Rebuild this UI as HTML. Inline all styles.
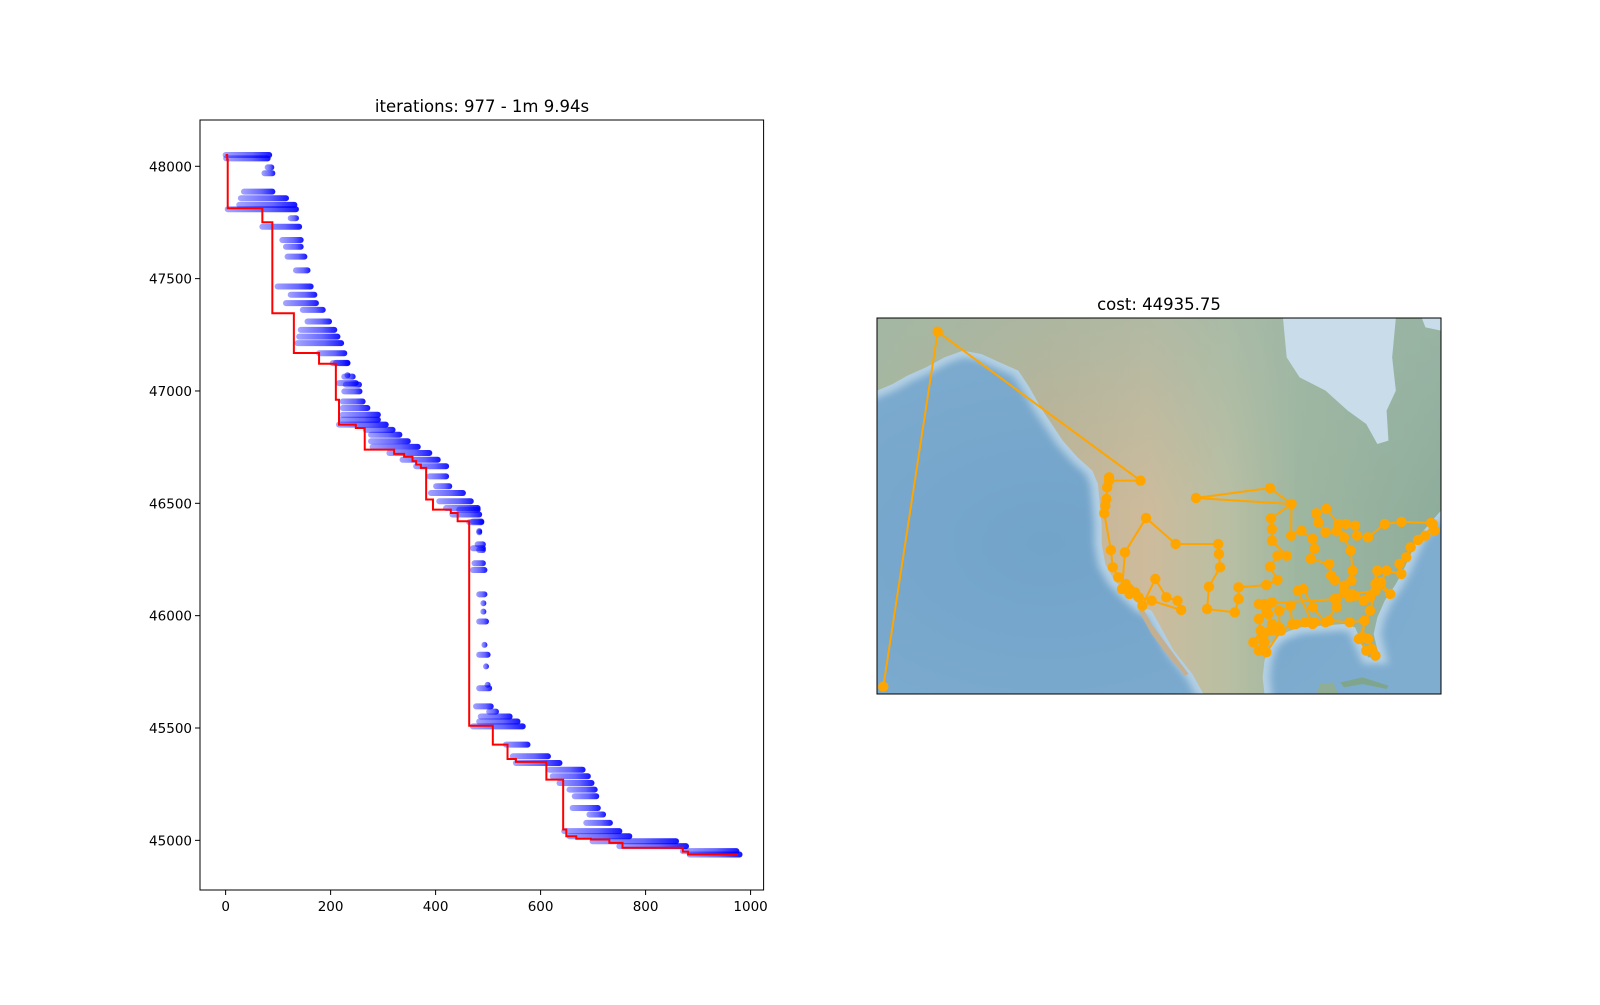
<!DOCTYPE html>
<html><head><meta charset="utf-8"><style>
html,body{margin:0;padding:0;background:#fff;}
svg text{font-family:"DejaVu Sans","Liberation Sans",sans-serif;}
</style></head><body>
<svg id="fig" width="1600" height="1000" viewBox="0 0 1600 1000" xmlns="http://www.w3.org/2000/svg">
<defs>
<linearGradient id="streakGrad" x1="0" y1="0" x2="1" y2="0">
<stop offset="0" stop-color="#0000ff" stop-opacity="0.35"/><stop offset="0.6" stop-color="#0000ff" stop-opacity="0.6"/><stop offset="1" stop-color="#0000ff" stop-opacity="0.92"/>
</linearGradient>
<linearGradient id="landGrad" x1="0" y1="0" x2="1" y2="0">
<stop offset="0" stop-color="#a9b69c"/><stop offset="0.3" stop-color="#c2b394"/><stop offset="0.48" stop-color="#cdbb9c"/>
<stop offset="0.62" stop-color="#b9bfa3"/><stop offset="0.75" stop-color="#9db6a0"/><stop offset="1" stop-color="#8fad9c"/>
</linearGradient>
<linearGradient id="northGrad" x1="0" y1="0" x2="0" y2="1">
<stop offset="0" stop-color="#9fb8a8" stop-opacity="0.6"/><stop offset="0.5" stop-color="#9fb8a8" stop-opacity="0"/>
</linearGradient>
<radialGradient id="oceanGrad" cx="0.3" cy="0.6" r="0.7">
<stop offset="0" stop-color="#72a3c9"/><stop offset="1" stop-color="#7fadd0"/>
</radialGradient>
<filter id="blur" x="-20%" y="-20%" width="140%" height="140%"><feGaussianBlur stdDeviation="10"/></filter>
<clipPath id="mapClip"><rect x="877" y="318" width="564" height="376"/></clipPath>
<clipPath id="ax1Clip"><rect x="200" y="120" width="564" height="770"/></clipPath>
</defs>
<rect width="1600" height="1000" fill="#fff"/>

<g id="leftChart">
<text x="482" y="112" font-size="16.5" text-anchor="middle">iterations: 977 - 1m 9.94s</text>
<g id="blueLayer" clip-path="url(#ax1Clip)"></g>
<g id="redLayer" clip-path="url(#ax1Clip)"></g>
<rect x="200" y="120" width="563.6" height="770" fill="none" stroke="#000" stroke-width="1"/>
<g id="xTicks"></g>
<g id="yTicks"></g>
</g>

<g id="rightChart">
<text x="1159" y="310" font-size="16.5" text-anchor="middle">cost: 44935.75</text>
<g clip-path="url(#mapClip)">
<rect x="877" y="318" width="564" height="376" fill="url(#oceanGrad)"/>
<svg x="877" y="318" width="564" height="376" viewBox="18 82 1524 1128" preserveAspectRatio="none">
<path d="M18,82 L1542,82 L1542,660 L1510,700 L1480,740 L1460,790 L1440,840 L1420,880 L1390,930 L1370,980 L1360,1030 L1375,1100 L1345,1100 L1325,1050 L1310,1010 L1280,1000 L1220,1005 L1160,1010 L1110,1030 L1080,1060 L1065,1110 L1060,1160 L1065,1210 L900,1210 L870,1150 L820,1080 L790,1020 L760,960 L735,950 L700,915 L660,870 L635,820 L625,760 L625,700 L620,640 L615,580 L600,540 L560,500 L520,450 L490,400 L460,350 L430,290 L400,240 L350,215 L300,190 L250,180 L200,200 L150,230 L100,255 L60,280 L18,300 Z" fill="none" stroke="#b4d0e4" stroke-width="40" filter="url(#blur)"/>
<path d="M18,82 L1542,82 L1542,660 L1510,700 L1480,740 L1460,790 L1440,840 L1420,880 L1390,930 L1370,980 L1360,1030 L1375,1100 L1345,1100 L1325,1050 L1310,1010 L1280,1000 L1220,1005 L1160,1010 L1110,1030 L1080,1060 L1065,1110 L1060,1160 L1065,1210 L900,1210 L870,1150 L820,1080 L790,1020 L760,960 L735,950 L700,915 L660,870 L635,820 L625,760 L625,700 L620,640 L615,580 L600,540 L560,500 L520,450 L490,400 L460,350 L430,290 L400,240 L350,215 L300,190 L250,180 L200,200 L150,230 L100,255 L60,280 L18,300 Z" fill="url(#landGrad)"/>
<path d="M18,82 L1542,82 L1542,660 L1510,700 L1480,740 L1460,790 L1440,840 L1420,880 L1390,930 L1370,980 L1360,1030 L1375,1100 L1345,1100 L1325,1050 L1310,1010 L1280,1000 L1220,1005 L1160,1010 L1110,1030 L1080,1060 L1065,1110 L1060,1160 L1065,1210 L900,1210 L870,1150 L820,1080 L790,1020 L760,960 L735,950 L700,915 L660,870 L635,820 L625,760 L625,700 L620,640 L615,580 L600,540 L560,500 L520,450 L490,400 L460,350 L430,290 L400,240 L350,215 L300,190 L250,180 L200,200 L150,230 L100,255 L60,280 L18,300 Z" fill="url(#northGrad)"/>
<path d="M735,950 L760,1000 L800,1060 L840,1120 L860,1150 L850,1155 L800,1090 L760,1030 L725,960 Z" fill="#c4b091"/>
<path d="M1115,82 L1420,82 L1410,200 L1420,300 L1395,360 L1400,450 L1370,460 L1340,400 L1290,360 L1230,300 L1160,260 L1125,200 Z" fill="#c8dcea"/>
<path d="M1490,82 L1542,82 L1542,120 L1500,110 Z" fill="#c8dcea"/>
<path d="M1270,1175 L1330,1160 L1400,1185 L1395,1195 L1330,1180 L1280,1190 Z" fill="#7fa68c"/>
<path d="M1205,1210 L1215,1180 L1250,1175 L1265,1210 Z" fill="#8fae95"/>
</svg>
</g>
<g id="routeLayer" clip-path="url(#mapClip)"></g>
<rect x="877" y="318" width="564" height="376" fill="none" stroke="#000" stroke-width="1"/>
</g>
</svg>
<script>
// ---- convergence chart data ----
const bestIter = [0,3,4,70,89,130,178,210,216,248,265,321,340,356,363,372,382,395,429,442,464,509,537,553,611,621,643,649,668,696,731,756,871,881,976];
const bestCost = [48050,48030,47813,47751,47346,47169,47121,46961,46850,46835,46739,46720,46707,46688,46673,46658,46517,46472,46457,46420,45510,45426,45362,45349,45270,45270,45048,45018,45007,45004,44989,44967,44950,44937,44937];
const streakCost = [48050,48035,47995,47969,47887,47858,47828,47809,47769,47731,47672,47642,47598,47537,47465,47428,47391,47361,47309,47272,47242,47213,47168,47124,47064,47028,
47125,47070,47035,46998,46953,46924,46894,46872,46850,46827,46805,46776,46751,46724,46694,46665,46620,46576,46546,46509,46479,46450,46416,46376,46317,46292,
46472,46419,46371,46300,46233,46203,46095,46055,46018,45974,45870,45826,45774,45692,45677,45596,45573,45551,45529,45507,45426,45374,45344,45314,45285,45255,45226,45196,45144,45115,45078,45041,45018,44996,44974,44952,44937];
const streakStart = [0,1,80,74,35,29,26,4,124,70,108,115,118,134,99,124,115,147,156,143,140,137,178,204,226,229,
210,232,216,226,223,223,223,220,216,267,277,277,280,312,337,363,388,401,391,407,420,432,464,483,480,483,
445,471,483,471,474,471,483,491,491,483,493,483,496,499,483,477,502,486,483,471,534,547,553,617,623,636,655,665,661,693,687,645,655,699,750,871,884];
const streakEnd = [83,80,87,89,89,115,131,134,134,140,143,143,150,156,162,169,172,185,197,207,213,220,226,232,242,254,
232,232,248,255,261,270,290,290,305,318,331,347,366,388,404,420,420,426,452,467,480,483,487,483,490,490,
480,487,483,490,490,493,493,491,491,496,493,499,496,499,502,505,515,541,556,566,575,614,636,680,690,697,703,706,709,719,732,750,769,858,877,973,979];
const xTickVals = [0,200,400,600,800,1000];
const yTickVals = [45000,45500,46000,46500,47000,47500,48000];

// ---- map route data (map grid units) ----
const routeX = [35,182,730,645,645,640,638,635,632,650,655,670,690,700,715,725,735,770,800,830,840,760,700,680,688,745,825,940,942,945,915,910,985,995,995,1070,1100,1080,1100,1125,1085,1085,1083,1138,1080,880,1138,1137,1165,1195,1200,1190,1240,1245,1255,1280,1300,1303,1298,1280,1265,1232,1205,1210,1230,1260,1285,1310,1315,1345,1390,1435,1515,1525,1520,1500,1480,1460,1448,1430,1435,1395,1380,1405,1365,1370,1350,1333,1310,1295,1280,1255,1260,1230,1196,1170,1155,1195,1175,1140,1135,1105,1105,1080,1065,1035,1055,1050,1070,1065,1085,1075,1085,1110,1070,1050,1060,1100,1150,1200,1240,1295,1335,1330,1345,1355,1365,1340,1320,1350,1365,1300,1260,1050];
const routeY = [1188,123,570,570,560,590,625,645,668,778,830,860,880,895,905,920,945,865,920,930,958,930,910,895,785,682,760,760,790,830,888,955,965,925,890,883,868,828,795,795,750,715,683,640,592,622,640,735,720,745,775,805,820,855,868,885,870,840,780,740,700,655,668,695,725,722,700,705,735,740,700,694,697,720,700,735,748,770,800,820,850,840,875,910,880,840,920,930,915,920,900,925,950,995,950,895,900,1000,995,1000,945,960,1010,1020,1055,1055,1020,985,960,940,935,970,1000,1020,1085,1080,1040,1020,1000,995,990,995,990,1040,1045,1075,1095,1080,1045,960,900,910,925,940];

const NS='http://www.w3.org/2000/svg';
function mk(tag, attrs){const e=document.createElementNS(NS,tag);for(const k in attrs)e.setAttribute(k,attrs[k]);return e;}
const X0=200, X1=763.6, Y0=120, Y1=890;
const xMin=-48.8, xMax=1024.8, yMin=44779, yMax=48206;
function sx(i){return X0+(i-xMin)/(xMax-xMin)*(X1-X0);}
function sy(v){return Y0+(yMax-v)/(yMax-yMin)*(Y1-Y0);}
function mx(u){return 877+(u-18)/1524*564;}
function my(u){return 318+(u-82)/1128*376;}

// blue streaks
const blue=document.getElementById('blueLayer');
for(let k=0;k<streakCost.length;k++){
  const x0=sx(streakStart[k])-3, x1=sx(streakEnd[k])+3;
  const r=mk('rect',{x:x0,y:sy(streakCost[k])-3,width:Math.max(6,x1-x0),height:6,rx:3,fill:'url(#streakGrad)'});
  
  
  blue.appendChild(r);
}
// red step line
let d='';
for(let k=0;k<bestIter.length;k++){
  if(k===0) d+='M'+sx(bestIter[k])+','+sy(bestCost[k]);
  else d+=' L'+sx(bestIter[k])+','+sy(bestCost[k-1])+' L'+sx(bestIter[k])+','+sy(bestCost[k]);
}
const red=mk('path',{d:d,fill:'none',stroke:'#ff0000','stroke-width':'2','stroke-linejoin':'miter'});


document.getElementById('redLayer').appendChild(red);

// ticks
const xt=document.getElementById('xTicks');
xTickVals.forEach(v=>{
  const x=sx(v);
  const t=mk('line',{x1:x,x2:x,y1:Y1,y2:Y1+5,stroke:'#000','stroke-width':'1'});
  
  
  xt.appendChild(t);
  const lb=mk('text',{x:x,y:Y1+21,'font-size':'13.5','text-anchor':'middle'});
  lb.textContent=v;
  
  
  xt.appendChild(lb);
});
const yt=document.getElementById('yTicks');
yTickVals.forEach(v=>{
  const y=sy(v);
  const t=mk('line',{x1:X0-5,x2:X0,y1:y,y2:y,stroke:'#000','stroke-width':'1'});
  
  
  yt.appendChild(t);
  const lb=mk('text',{x:X0-8,y:y+5,'font-size':'13.5','text-anchor':'end'});
  lb.textContent=v;
  
  
  yt.appendChild(lb);
});

// route
const route=document.getElementById('routeLayer');
let rd='';
for(let k=0;k<routeX.length;k++){rd+=(k?' L':'M')+mx(routeX[k])+','+my(routeY[k]);}
const rp=mk('path',{d:rd,fill:'none',stroke:'#ffa500','stroke-width':'2','stroke-linejoin':'round'});


route.appendChild(rp);
for(let k=0;k<routeX.length;k++){
  const c=mk('circle',{cx:mx(routeX[k]),cy:my(routeY[k]),r:'5.2',fill:'#ffa500'});
  
  
  route.appendChild(c);
}
</script>
</body></html>
